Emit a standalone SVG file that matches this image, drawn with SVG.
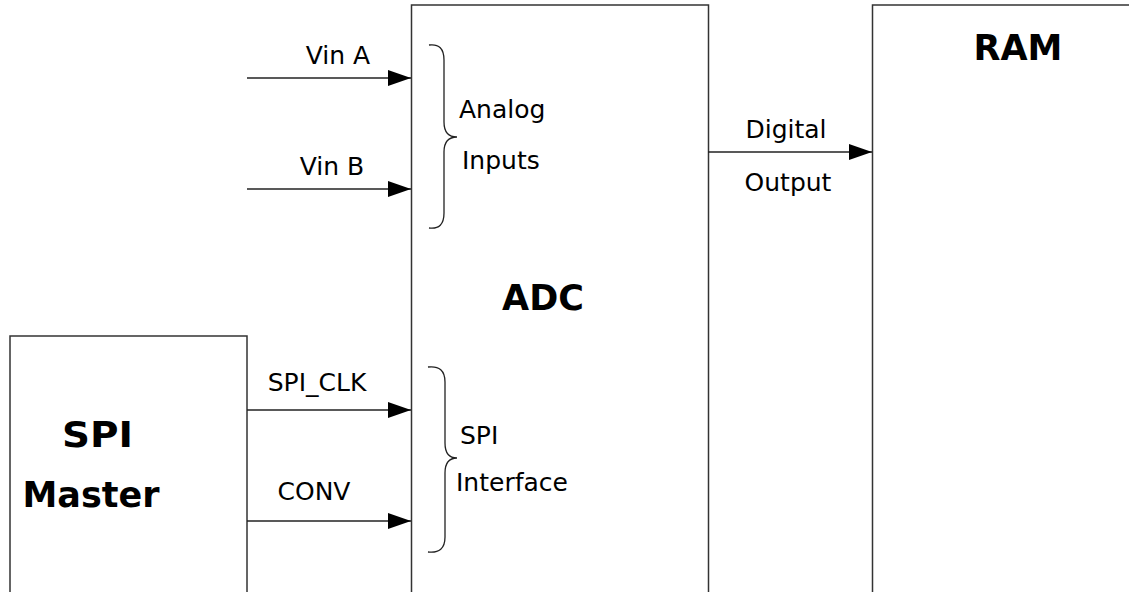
<svg xmlns="http://www.w3.org/2000/svg" width="1129" height="592" viewBox="0 0 1129 592">
<style>
.box{fill:#fff;stroke:#333;stroke-width:1.5}
.wire{stroke:#222;stroke-width:1.5;fill:none}
.brace{stroke:#222;stroke-width:1.3;fill:none}
.lbl{font-family:"DejaVu Sans",sans-serif;font-size:25px;fill:#000}
.title{font-family:"DejaVu Sans",sans-serif;font-size:35px;font-weight:bold;fill:#000}
</style>
<defs>
<marker id="arr" markerUnits="userSpaceOnUse" markerWidth="24" markerHeight="18" refX="23" refY="8" orient="auto">
<path d="M0,0 L23,8 L0,16 Z" fill="#000"/>
</marker>
</defs>
<rect width="1129" height="592" fill="#fff"/>
<g id="spi-master">
<rect class="box" x="10" y="336" width="237" height="270"/>
<text class="title" x="62" y="447" textLength="71" lengthAdjust="spacingAndGlyphs">SPI</text>
<text class="title" x="91" y="507" text-anchor="middle">Master</text>
</g>
<g id="adc">
<rect class="box" x="411.5" y="5" width="297" height="600"/>
<text class="title" x="543" y="310" text-anchor="middle">ADC</text>
<path class="brace" d="M429,45 Q444,43 444,60 L444,122 Q444,137 457,137 Q444,137 444,152 L444,213 Q444,230 429,228"/>
<text class="lbl" x="459" y="118">Analog</text>
<text class="lbl" x="462" y="169">Inputs</text>
<path class="brace" d="M428,367 Q445,365 445,382 L445,443 Q445,458 457,458 Q445,458 445,473 L445,537 Q445,554 428,552"/>
<text class="lbl" x="460" y="444">SPI</text>
<text class="lbl" x="456" y="491">Interface</text>
</g>
<g id="ram">
<rect class="box" x="872.5" y="5" width="270" height="600"/>
<text class="title" x="1018" y="60" text-anchor="middle">RAM</text>
</g>
<g id="connectors">
<line class="wire" x1="247" y1="78" x2="411" y2="78" marker-end="url(#arr)"/>
<text class="lbl" x="338" y="64" text-anchor="middle">Vin A</text>
<line class="wire" x1="247" y1="189" x2="411" y2="189" marker-end="url(#arr)"/>
<text class="lbl" x="332" y="175" text-anchor="middle">Vin B</text>
<line class="wire" x1="247" y1="410" x2="411" y2="410" marker-end="url(#arr)"/>
<text class="lbl" x="317" y="391" text-anchor="middle">SPI_CLK</text>
<line class="wire" x1="247" y1="521" x2="411" y2="521" marker-end="url(#arr)"/>
<text class="lbl" x="314" y="500" text-anchor="middle">CONV</text>
<line class="wire" x1="708" y1="152" x2="872" y2="152" marker-end="url(#arr)"/>
<text class="lbl" x="786" y="138" text-anchor="middle">Digital</text>
<text class="lbl" x="788" y="191" text-anchor="middle">Output</text>
</g>
</svg>
